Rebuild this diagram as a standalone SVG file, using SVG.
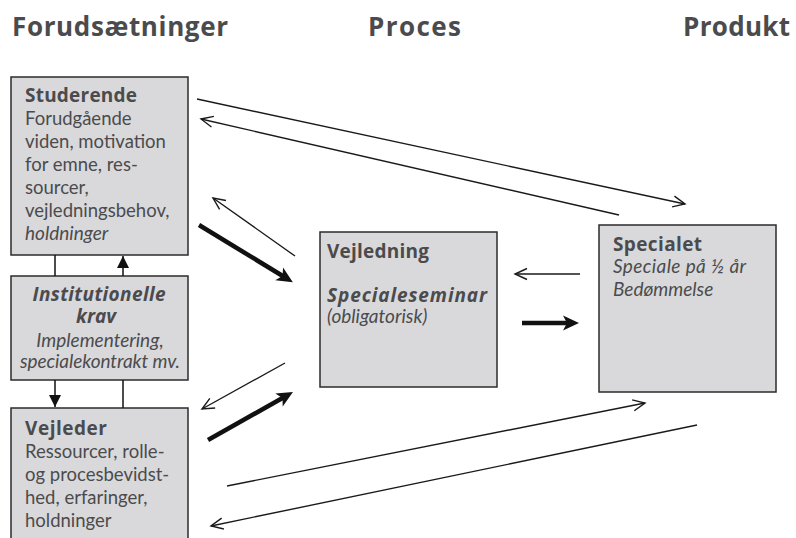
<svg xmlns="http://www.w3.org/2000/svg" width="796" height="538" viewBox="0 0 796 538">
<style>
text{font-family:Lato,"Open Sans","Liberation Sans",sans-serif;fill:#4b4b4d;font-size:18.5px}
.h{font-family:"Open Sans",Lato,sans-serif;font-size:26px;font-weight:bold}
.b{font-family:"Open Sans",Lato,sans-serif;font-size:19px;font-weight:bold}
.i{font-style:italic;font-size:19px}
.bi{font-family:"Open Sans",Lato,sans-serif;font-size:19px;font-weight:bold;font-style:italic}
.box{fill:#d9d9db;stroke:#2b2b2b;stroke-width:1.5}
.thin{stroke:#1a1a1a;stroke-width:1.4;fill:none;marker-end:url(#open)}
.thick{stroke:#111;stroke-width:4.5;fill:none;marker-end:url(#solid)}
.vert{stroke:#111;stroke-width:1.5;fill:none}
</style>
<defs>
<marker id="open" markerUnits="userSpaceOnUse" viewBox="-14 -8 16 16" refX="0" refY="0" markerWidth="16" markerHeight="16" orient="auto" overflow="visible">
<path d="M-12,-5.5 L0,0 L-12,5.5" fill="none" stroke="#1a1a1a" stroke-width="1.4"/>
</marker>
<marker id="solid" markerUnits="userSpaceOnUse" viewBox="-10 -10 20 20" refX="0" refY="0" markerWidth="20" markerHeight="20" orient="auto" overflow="visible">
<path d="M-8,-7.5 L8,0 L-8,7.5 L-4,0 z" fill="#111"/>
</marker>
<marker id="tri" markerUnits="userSpaceOnUse" viewBox="-10 -10 20 20" refX="0" refY="0" markerWidth="20" markerHeight="20" orient="auto" overflow="visible">
<path d="M-12,-6 L0,0 L-12,6 z" fill="#111"/>
</marker>
</defs>

<g id="headers">
<text class="h" x="12" y="36" textLength="216">Forudsætninger</text>
<text class="h" x="368" y="36" textLength="93">Proces</text>
<text class="h" x="683" y="36" textLength="107">Produkt</text>
</g>

<g id="studerende">
<rect class="box" x="11" y="77" width="177" height="178"/>
<text class="b" x="25" y="102" textLength="112">Studerende</text>
<text x="25" y="125">Forudgående</text>
<text x="25" y="148">viden, motivation</text>
<text x="25" y="171">for emne, res-</text>
<text x="25" y="194">sourcer,</text>
<text x="25" y="217">vejledningsbehov,</text>
<text class="i" x="25" y="240">holdninger</text>
</g>

<g id="institutionelle">
<rect class="box" x="11" y="276" width="177" height="104"/>
<text class="bi" x="99" y="301" text-anchor="middle" textLength="133">Institutionelle</text>
<text class="bi" x="96" y="323" text-anchor="middle">krav</text>
<text class="i" x="100" y="347" text-anchor="middle">Implementering,</text>
<text class="i" x="100" y="368" text-anchor="middle" textLength="160">specialekontrakt mv.</text>
</g>

<g id="vejleder">
<rect class="box" x="11" y="408" width="177" height="140"/>
<text class="b" x="25" y="435" textLength="82">Vejleder</text>
<text x="25" y="458">Ressourcer, rolle-</text>
<text x="25" y="481">og procesbevidst-</text>
<text x="25" y="504">hed, erfaringer,</text>
<text x="25" y="527">holdninger</text>
</g>

<g id="vejledning">
<rect class="box" x="320" y="232" width="177" height="155"/>
<text class="b" x="327" y="258" textLength="102">Vejledning</text>
<text class="bi" x="327" y="302" textLength="160">Specialeseminar</text>
<text class="i" x="327" y="323">(obligatorisk)</text>
</g>

<g id="specialet">
<rect class="box" x="599" y="225" width="177" height="167"/>
<text class="b" x="613" y="251" textLength="89">Specialet</text>
<text class="i" x="613" y="273" textLength="133">Speciale på ½ år</text>
<text class="i" x="613" y="296">Bedømmelse</text>
</g>

<g id="connectors">
<line class="thin" x1="197" y1="99" x2="685" y2="204"/>
<line class="thin" x1="619" y1="215" x2="201" y2="119"/>
<line class="thin" x1="295" y1="256" x2="213" y2="198"/>
<line class="thick" x1="199" y1="225" x2="286" y2="278"/>
<line class="thin" x1="285" y1="363" x2="202" y2="409"/>
<line class="thick" x1="208" y1="440" x2="286" y2="396"/>
<line class="thin" x1="580" y1="274" x2="515" y2="274"/>
<line class="thick" x1="522" y1="323" x2="571" y2="323"/>
<line class="thin" x1="227" y1="486" x2="645" y2="403"/>
<line class="thin" x1="697" y1="425" x2="211" y2="526"/>
<line class="vert" x1="55" y1="255" x2="55" y2="276"/>
<line class="vert" x1="123" y1="276" x2="123" y2="256" marker-end="url(#tri)"/>
<line class="vert" x1="55" y1="380" x2="55" y2="407" marker-end="url(#tri)"/>
<line class="vert" x1="123" y1="380" x2="123" y2="408"/>
</g>
</svg>
